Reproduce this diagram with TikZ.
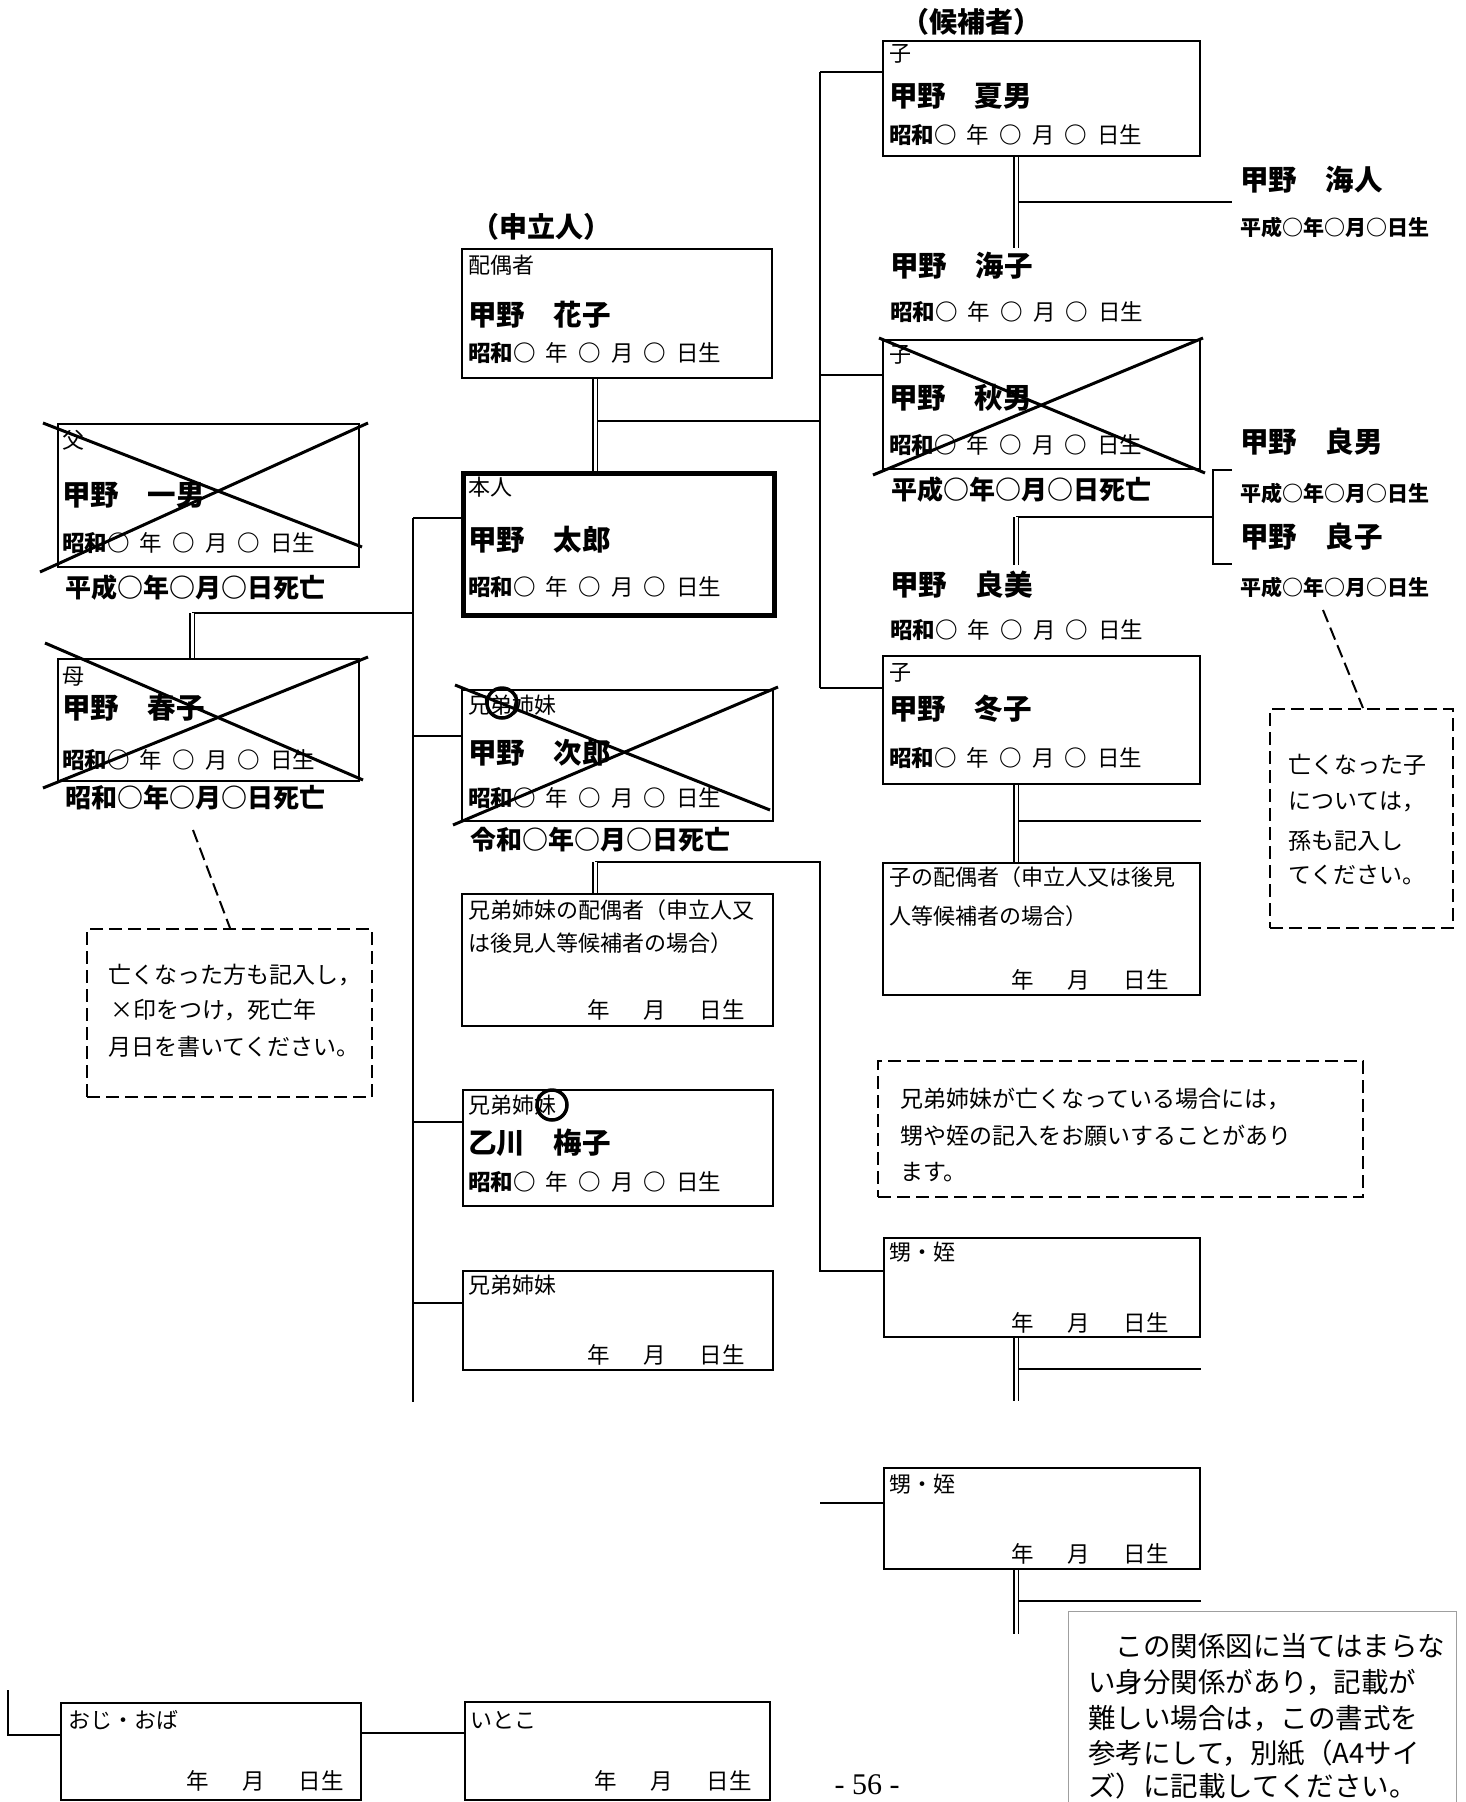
\documentclass[tikz,border=0pt]{standalone}
\usepackage{fontspec}
\setmainfont{Noto Sans CJK JP}
\newfontfamily\pgserif{Liberation Serif}
\usetikzlibrary{backgrounds}
\newcommand\jg{\hspace{0.45em}}
\newcommand\ymd{年\hspace{1.5em}月\hspace{1.5em}日生}
\newcommand\sdate{\textbf{昭和○}\jg 年\jg \textbf{○}\jg 月\jg \textbf{○}\jg 日生}
\begin{document}
\begin{tikzpicture}[x=1pt,y=-1pt,
  box/.style={draw, line width=2pt, inner sep=0pt, anchor=north west},
  lab/.style={anchor=west, inner sep=0pt, font=\fontsize{22}{26}\selectfont},
  nm/.style={anchor=west, inner sep=0pt, font=\bfseries\fontsize{28.5}{32}\selectfont},
  dt/.style={anchor=west, inner sep=0pt, font=\fontsize{22.5}{26}\selectfont},
  dd/.style={anchor=west, inner sep=0pt, font=\bfseries\fontsize{26}{30}\selectfont},
  sd/.style={anchor=west, inner sep=0pt, font=\bfseries\fontsize{21}{25}\selectfont},
  ymdr/.style={anchor=east, inner sep=0pt, font=\fontsize{22.5}{26}\selectfont},
  note/.style={anchor=west, inner sep=0pt, font=\fontsize{23}{27}\selectfont},
  bignote/.style={anchor=west, inner sep=0pt, font=\fontsize{27.5}{31}\selectfont},
  role/.style={inner sep=0pt, font=\bfseries\fontsize{28}{32}\selectfont},
  conn/.style={line width=1.8pt},
  dbl/.style={double, double distance=3pt, line width=1.3pt},
  crossl/.style={line width=3pt},
  dashbox/.style={box, dash pattern=on 13pt off 6pt},
  leader/.style={line width=2pt, dash pattern=on 13pt off 6pt},
  ring/.style={draw, line width=3.5pt, circle, minimum size=30pt, inner sep=0pt},
]
\useasboundingbox (0,0) rectangle (1465,1802);
\clip (0,0) rectangle (1465,1802);

% ---------- boxes ----------
\node[box, minimum width=301pt, minimum height=143pt] (chichi) at (57,423) {};
\node[box, minimum width=301pt, minimum height=122pt] (haha) at (57,658) {};
\node[box, minimum width=310pt, minimum height=129pt] (hanako) at (461,248) {};
\node[box, line width=4.5pt, minimum width=311pt, minimum height=142pt] (honnin) at (461,471) {};
\node[box, minimum width=311pt, minimum height=131pt] (jiro) at (461,689) {};
\node[box, minimum width=311pt, minimum height=132pt] (jsp) at (461,893) {};
\node[box, minimum width=310pt, minimum height=116pt] (ume) at (462,1089) {};
\node[box, minimum width=310pt, minimum height=99pt] (kyodai) at (462,1270) {};
\node[box, minimum width=317pt, minimum height=115pt] (natsuo) at (882,40) {};
\node[box, minimum width=317pt, minimum height=129pt] (akio) at (882,339) {};
\node[box, minimum width=317pt, minimum height=128pt] (fuyuko) at (882,655) {};
\node[box, minimum width=317pt, minimum height=132pt] (ksp) at (882,862) {};
\node[box, minimum width=316pt, minimum height=99pt] (oi1) at (883,1237) {};
\node[box, minimum width=316pt, minimum height=101pt] (oi2) at (883,1467) {};
\node[box, minimum width=300pt, minimum height=97pt] (oji) at (60,1702) {};
\node[box, minimum width=305pt, minimum height=98pt] (itoko) at (464,1701) {};
\node[dashbox, minimum width=285pt, minimum height=168pt] (noteA) at (86,928) {};
\node[dashbox, minimum width=183pt, minimum height=219pt] (noteB) at (1269,708) {};
\node[dashbox, minimum width=485pt, minimum height=136pt] (noteC) at (877,1060) {};
\node[box, draw=gray!75, line width=1.2pt, minimum width=388pt, minimum height=240pt] (noteD) at (1068,1611) {};

% ---------- connectors ----------
\begin{pgfonlayer}{background}
\coordinate (lt1) at (413,518);
\coordinate (lt2) at (413,1402);
\coordinate (lj) at (413,736);
\coordinate (lu) at (413,1122);
\coordinate (lk) at (413,1303);
\draw[conn] (lt1) -- (lt2);
\draw[conn] (lt1) -- (lt1 -| honnin.west);
\draw[conn] (lj) -- (lj -| jiro.west);
\draw[conn] (lu) -- (lu -| ume.west);
\draw[conn] (lk) -- (lk -| kyodai.west);
% parents
\coordinate (pj) at (192,613);
\coordinate (pt) at (413,613);
\draw[conn] (pj) -- (pt);
\draw[dbl] (pj) -- (pj |- haha.north);
% right trunk (children)
\coordinate (rtA) at (820,72);
\coordinate (rtM) at (820,375);
\coordinate (rtB) at (820,688);
\draw[conn] (rtA) -- (rtB);
\draw[conn] (rtA) -- (rtA -| natsuo.west);
\draw[conn] (rtM) -- (rtM -| akio.west);
\draw[conn] (rtB) -- (rtB -| fuyuko.west);
% spouse and self
\coordinate (hj) at (595,421);
\draw[conn] (hj) -- (hj -| rtA);
\draw[dbl] (hanako.south -| hj) -- (honnin.north -| hj);
% sibling spouse and nephews
\coordinate (sj) at (595,862);
\coordinate (rtC) at (820,862);
\coordinate (rtD) at (820,1271);
\coordinate (st) at (820,1503);
\draw[conn] (sj) -- (rtC) -- (rtD) -- (rtD -| oi1.west);
\draw[conn] (st) -- (st -| oi2.west);
\draw[dbl] (sj) -- (sj |- jsp.north);
% natsuo
\coordinate (nd) at (1016,248);
\coordinate (nh) at (1016,202);
\coordinate (nhe) at (1232,202);
\draw[conn] (nh) -- (nhe);
\draw[dbl] (natsuo.south -| nd) -- (nd);
% akio
\coordinate (ad1) at (1016,517);
\coordinate (ad2) at (1016,565);
\coordinate (br1) at (1213,470);
\coordinate (br2) at (1213,564);
\coordinate (bs1) at (1232,470);
\coordinate (bs2) at (1232,564);
\draw[conn] (ad1) -- (ad1 -| br1);
\draw[conn] (bs1) -- (br1) -- (br2) -- (bs2);
\draw[dbl] (ad1) -- (ad2);
% fuyuko
\coordinate (fh) at (1016,821);
\draw[conn] (fh) -- (fh -| fuyuko.east);
\draw[dbl] (fuyuko.south -| fh) -- (ksp.north -| fh);
% nephews
\coordinate (o1d) at (1016,1401);
\coordinate (o1h) at (1016,1369);
\draw[conn] (o1h) -- (o1h -| oi1.east);
\draw[dbl] (oi1.south -| o1d) -- (o1d);
\coordinate (o2d) at (1016,1634);
\coordinate (o2h) at (1016,1601);
\draw[conn] (o2h) -- (o2h -| oi2.east);
\draw[dbl] (oi2.south -| o2d) -- (o2d);
% uncle / cousin
\coordinate (bb1) at (8,1690);
\coordinate (bb2) at (8,1735);
\draw[conn] (bb1) -- (bb2) -- (bb2 -| oji.west);
\coordinate (ob) at (360,1733);
\draw[conn] (ob) -- (ob -| itoko.west);
% leaders
\coordinate (la) at (193,830);
\coordinate (laE) at (230,928);
\draw[leader] (la) -- (laE);
\coordinate (lb) at (1323,610);
\coordinate (lbE) at (1363,708);
\draw[leader] (lb) -- (lbE);
\end{pgfonlayer}

% ---------- texts: left ----------
\node[lab] (t01) at (62,440) {父};
\node[nm] (t02) at (62,495) {甲野　一男};
\node[dt] (t03) at (62,543) {\sdate};
\node[dd] (t04) at (65,588) {平成○年○月○日死亡};
\node[lab] (t05) at (62,677) {母};
\node[nm] (t06) at (62,708) {甲野　春子};
\node[dt] (t07) at (62,760) {\sdate};
\node[dd] (t08) at (65,798) {昭和○年○月○日死亡};
\node[note] (t09) at (108,975) {亡くなった方も記入し，};
\node[note] (t10) at (110,1010) {×印をつけ，死亡年};
\node[note] (t11) at (108,1047) {月日を書いてください。};

% ---------- texts: middle ----------
\node[role] (t12) at (541,227) {（申立人）};
\node[lab] (t13) at (468,265) {配偶者};
\node[nm] (t14) at (468,315) {甲野　花子};
\node[dt] (t15) at (468,353) {\sdate};
\node[lab] (t16) at (468,487) {本人};
\node[nm] (t17) at (468,540) {甲野　太郎};
\node[dt] (t18) at (468,587) {\sdate};
\node[lab] (t19) at (468,705) {兄弟姉妹};
\node[nm] (t20) at (468,753) {甲野　次郎};
\node[dt] (t21) at (468,798) {\sdate};
\node[dd] (t22) at (470,840) {令和○年○月○日死亡};
\node[lab] (t23) at (468,910) {兄弟姉妹の配偶者（申立人又};
\node[lab] (t24) at (468,943) {は後見人等候補者の場合）};
\node[ymdr] (t25) at (745,1010) {\ymd};
\node[lab] (t26) at (468,1105) {兄弟姉妹};
\node[nm] (t27) at (468,1143) {乙川　梅子};
\node[dt] (t28) at (468,1182) {\sdate};
\node[lab] (t29) at (468,1285) {兄弟姉妹};
\node[ymdr] (t30) at (745,1355) {\ymd};

% ---------- texts: right ----------
\node[role] (t31) at (971,22) {（候補者）};
\node[lab] (t32) at (889,54) {子};
\node[nm] (t33) at (889,96) {甲野　夏男};
\node[dt] (t34) at (889,135) {\sdate};
\node[nm] (t35) at (1240,180) {甲野　海人};
\node[sd] (t36) at (1240,227) {平成○年○月○日生};
\node[nm] (t37) at (890,266) {甲野　海子};
\node[dt] (t38) at (890,312) {\sdate};
\node[lab] (t39) at (889,355) {子};
\node[nm] (t40) at (889,398) {甲野　秋男};
\node[dt] (t41) at (889,445) {\sdate};
\node[dd] (t42) at (891,490) {平成○年○月○日死亡};
\node[nm] (t43) at (1240,442) {甲野　良男};
\node[sd] (t44) at (1240,493) {平成○年○月○日生};
\node[nm] (t45) at (1240,537) {甲野　良子};
\node[sd] (t46) at (1240,587) {平成○年○月○日生};
\node[nm] (t47) at (890,585) {甲野　良美};
\node[dt] (t48) at (890,630) {\sdate};
\node[lab] (t49) at (889,673) {子};
\node[nm] (t50) at (889,709) {甲野　冬子};
\node[dt] (t51) at (889,758) {\sdate};
\node[lab] (t52) at (889,877) {子の配偶者（申立人又は後見};
\node[lab] (t53) at (889,916) {人等候補者の場合）};
\node[ymdr] (t54) at (1169,980) {\ymd};
\node[note] (t55) at (1288,765) {亡くなった子};
\node[note] (t56) at (1288,802) {については，};
\node[note] (t57) at (1288,841) {孫も記入し};
\node[note] (t58) at (1288,875) {てください。};
\node[note] (t59) at (900,1099) {兄弟姉妹が亡くなっている場合には，};
\node[note] (t60) at (900,1136) {甥や姪の記入をお願いすることがあり};
\node[note] (t61) at (900,1172) {ます。};
\node[lab] (t62) at (889,1252) {甥・姪};
\node[ymdr] (t63) at (1169,1323) {\ymd};
\node[lab] (t64) at (889,1484) {甥・姪};
\node[ymdr] (t65) at (1169,1554) {\ymd};

% ---------- texts: bottom ----------
\node[lab] (t66) at (68,1720) {おじ・おば};
\node[ymdr] (t67) at (344,1781) {\ymd};
\node[lab] (t68) at (470,1720) {いとこ};
\node[ymdr] (t69) at (752,1781) {\ymd};
\node[bignote] (t70) at (1088,1646) {　この関係図に当てはまらな};
\node[bignote] (t71) at (1088,1682) {い身分関係があり，記載が};
\node[bignote] (t72) at (1088,1718) {難しい場合は，この書式を};
\node[bignote] (t73) at (1088,1753) {参考にして，別紙（A4サイ};
\node[bignote] (t74) at (1088,1786) {ズ）に記載してください。};
\node[inner sep=0pt, font=\pgserif\fontsize{30}{34}\selectfont] (pg) at (867,1785) {- 56 -};

% ---------- rings ----------
\node[ring] (r1) at (502,703) {};
\node[ring] (r2) at (552,1105) {};

% ---------- crosses ----------
\draw[crossl] (43,423) -- (362,547);
\draw[crossl] (40,572) -- (368,423);
\draw[crossl] (45,643) -- (363,780);
\draw[crossl] (43,788) -- (368,657);
\draw[crossl] (455,685) -- (770,810);
\draw[crossl] (453,825) -- (778,687);
\draw[crossl] (879,338) -- (1205,473);
\draw[crossl] (873,475) -- (1203,338);
\end{tikzpicture}
\end{document}
